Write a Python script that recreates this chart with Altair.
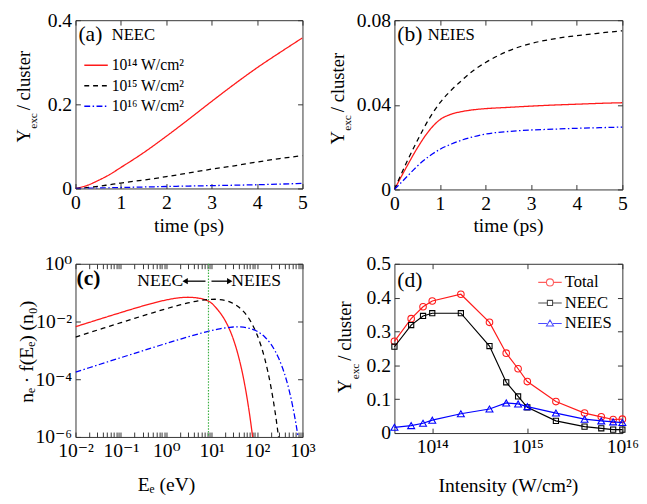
import altair as alt
import pandas as pd

FONT = "'Liberation Serif', 'Times New Roman', Times, 'DejaVu Serif', serif"
RED, BLACK, BLUE, GREEN = "#ff1a1a", "#000000", "#0000ff", "#3cb043"

# ---------------- panel (a): NEEC yield vs time ----------------
t_a = [0, 0.25, 0.5, 0.75, 1, 1.5, 2, 2.5, 3, 3.5, 4, 4.5, 5]
a_1e14 = [0, 0.007, 0.019, 0.033, 0.050, 0.085, 0.124, 0.165, 0.207, 0.248, 0.287, 0.323, 0.358]
a_1e15 = [0, 0.002, 0.005, 0.009, 0.013, 0.020, 0.028, 0.037, 0.046, 0.054, 0.063, 0.071, 0.078]
a_1e16 = [0, 0.0005, 0.001, 0.0017, 0.0023, 0.0035, 0.0047, 0.0058, 0.0068, 0.0078, 0.0089, 0.0104, 0.012]

# ---------------- panel (b): NEIES yield vs time ----------------
t_b = [0, 0.25, 0.5, 0.75, 1, 1.25, 1.5, 1.75, 2, 2.5, 3, 3.5, 4, 4.5, 5]
b_1e14 = [0, 0.010, 0.0195, 0.0275, 0.0330, 0.0356, 0.0369, 0.0377, 0.0382, 0.0388, 0.0394, 0.0399,
          0.0403, 0.0407, 0.041]
b_1e15 = [0, 0.012, 0.023, 0.033, 0.041, 0.047, 0.052, 0.0565, 0.060, 0.0655, 0.069, 0.0712, 0.0727,
          0.0739, 0.0750]
b_1e16 = [0, 0.0055, 0.011, 0.0155, 0.019, 0.0215, 0.0235, 0.0250, 0.0262, 0.0274, 0.0281, 0.0285,
          0.0289, 0.0292, 0.0295]

series_labels = ["10¹⁴ W/cm²", "10¹⁵ W/cm²", "10¹⁶ W/cm²"]

# ---------------- panel (c): electron energy distributions ----------------
E_red = [0.01, 0.02, 0.05, 0.1, 0.2, 0.5, 1, 2, 3, 5, 8, 10, 12, 15, 20, 25, 30, 40, 50, 60, 70, 80, 90]
f_red = [0.0066, 0.0093, 0.01464, 0.0205, 0.02855, 0.04294, 0.0559, 0.0669, 0.0693, 0.065, 0.053, 0.043,
         0.032, 0.021, 0.0105, 0.00512, 0.00244, 5.3e-4, 1.12e-4, 2.3e-5, 4.7e-6, 9.6e-7, 1.9e-7]
E_black = [0.01, 0.02, 0.05, 0.1, 0.2, 0.5, 1, 2, 3, 5, 8, 10, 12, 15, 20, 25, 30, 40, 50, 60, 70, 80, 90,
           100, 150, 200, 250, 300, 350]
f_black = [0.0029, 0.0041, 0.00647, 0.00913, 0.01286, 0.02006, 0.02775, 0.03754, 0.044, 0.052, 0.0576,
           0.0589, 0.0591, 0.0578, 0.0535, 0.04795, 0.0421, 0.03124, 0.0224, 0.0158, 0.011, 0.00752,
           0.00513, 0.00347, 4.66e-4, 5.9e-5, 7.2e-6, 8.6e-7, 1.0e-7]
E_blue = [0.01, 0.02, 0.05, 0.1, 0.2, 0.5, 1, 2, 3, 5, 8, 10, 12, 15, 20, 25, 30, 40, 50, 60, 70, 80, 90,
          100, 150, 200, 250, 300, 350, 400, 500, 600, 700, 800, 900]
f_blue = [1.77e-4, 2.5e-4, 3.96e-4, 5.6e-4, 7.9e-4, 1.243e-3, 1.746e-3, 2.436e-3, 2.944e-3, 3.70e-3,
          4.49e-3, 4.89e-3, 5.21e-3, 5.60e-3, 6.04e-3, 6.31e-3, 6.46e-3, 6.52e-3, 6.37e-3, 6.09e-3,
          5.75e-3, 5.37e-3, 4.98e-3, 4.58e-3, 2.86e-3, 1.68e-3, 9.5e-4, 5.3e-4, 2.9e-4, 1.6e-4,
          4.6e-5, 1.3e-5, 3.65e-6, 1.0e-6, 2.8e-7]
E_boundary = [8.5]
arrow_x1 = [7.3, 9.9]
arrow_x2 = [2.6, 25.0]
arrow_y = [0.25, 0.25]
arrow_head = ["triangle-left", "triangle-right"]
note_text = ["NEEC", "NEIES"]
note_x = [2.35, 27.0]
note_align = ["right", "left"]

# ---------------- panel (d): yield vs intensity ----------------
intensity = [4e13, 6e13, 8e13, 1e14, 2e14, 4e14, 6e14, 8e14, 1e15, 2e15, 4e15, 6e15, 8e15, 1e16]
y_total = [0.271, 0.338, 0.373, 0.390, 0.410, 0.327, 0.236, 0.190, 0.152, 0.093, 0.059, 0.048, 0.040, 0.041]
y_neec = [0.255, 0.319, 0.346, 0.354, 0.354, 0.257, 0.150, 0.108, 0.076, 0.036, 0.019, 0.014, 0.010, 0.010]
y_neies = [0.017, 0.022, 0.029, 0.038, 0.057, 0.071, 0.089, 0.086, 0.078, 0.059, 0.041, 0.036, 0.033, 0.031]
d_series = ["Total", "NEEC", "NEIES"]

DUMMY = pd.DataFrame({"k": [0]})
TICK = 5


def long_df(xs, ys_list, names, xname, yname):
    rows = []
    for xv, ys, name in zip(xs, ys_list, names):
        for a, b in zip(xv, ys):
            rows.append({xname: a, yname: b, "series": name})
    return pd.DataFrame(rows)


def ax(orient, values, fmt=None, expr=None, labels=True, tick=TICK, **extra):
    kw = dict(orient=orient, offset=-tick, tickSize=tick, domain=False, grid=False,
              labelOverlap=False, labelFlush=False, values=values, labels=labels,
              tickColor="#333", tickWidth=1, title=None,
              labelFont=FONT, labelFontSize=20, labelColor="black", labelPadding=4)
    if fmt:
        kw["format"] = fmt
    if expr:
        kw["labelExpr"] = expr
    kw.update(extra)
    return alt.Axis(**kw)


def txt(s, x, y, size, weight="normal", align="left", baseline="alphabetic", angle=None):
    kw = dict(text=s, fontSize=size, font=FONT, align=align, baseline=baseline,
              color="black", fontWeight=weight)
    if angle is not None:
        kw["angle"] = angle
    return alt.Chart(DUMMY).mark_text(**kw).encode(x=alt.value(x), y=alt.value(y))


def ytitle(xb, yb):
    return [
        txt("Y", xb, yb, 19, angle=270),
        txt("exc", xb + 8, yb - 14, 11.5, angle=270),
        txt("/ cluster", xb, yb - 33, 19, angle=270),
    ]


def mirror(df, xf, yf, xs, ys, xv, yv):
    return alt.Chart(df).transform_filter("false").mark_point().encode(
        x=alt.X(xf, type="quantitative", scale=xs, axis=ax("top", xv, labels=False)),
        y=alt.Y(yf, type="quantitative", scale=ys, axis=ax("right", yv, labels=False)),
    )


DASHES = [[1, 0], [5, 4], [6, 2.5, 1.5, 2.5]]

# ====== (a) ======
df_a = long_df([t_a] * 3, [a_1e14, a_1e15, a_1e16], series_labels, "t", "y")
xs_a = alt.Scale(domain=[0, 5], nice=False)
ys_a = alt.Scale(domain=[0, 0.4], nice=False)
leg_a = dict(orient="none", legendX=8, legendY=33, title=None, labelFont=FONT, labelFontSize=16,
             labelColor="black", symbolType="stroke", symbolSize=576, symbolStrokeWidth=1.4,
             rowPadding=-5, labelOffset=3, padding=0)
lines_a = alt.Chart(df_a).mark_line(strokeWidth=1.3, clip=True, interpolate="monotone").encode(
    x=alt.X("t:Q", scale=xs_a, axis=ax("bottom", [0, 1, 2, 3, 4, 5])),
    y=alt.Y("y:Q", scale=ys_a, axis=ax("left", [0, 0.2, 0.4], fmt="~g")),
    color=alt.Color("series:N", scale=alt.Scale(domain=series_labels, range=[RED, BLACK, BLUE]),
                    legend=alt.Legend(**leg_a)),
    strokeDash=alt.StrokeDash("series:N", scale=alt.Scale(domain=series_labels, range=DASHES),
                              legend=alt.Legend(**leg_a)),
)
panel_a = alt.layer(
    lines_a,
    mirror(df_a, "t", "y", xs_a, ys_a, [0, 1, 2, 3, 4, 5], [0, 0.2, 0.4]),
    txt("(a)", 3, 21, 22),
    txt("NEEC", 37, 20, 17),
    txt("time (ps)", 116, 216, 20, align="center"),
    *ytitle(-47, 125),
).resolve_axis(x="independent", y="independent").properties(width=232, height=172)

# ====== (b) ======
df_b = long_df([t_b] * 3, [b_1e14, b_1e15, b_1e16], series_labels, "t", "y")
xs_b = alt.Scale(domain=[0, 5], nice=False)
ys_b = alt.Scale(domain=[0, 0.08], nice=False)
lines_b = alt.Chart(df_b).mark_line(strokeWidth=1.3, clip=True, interpolate="monotone").encode(
    x=alt.X("t:Q", scale=xs_b, axis=ax("bottom", [0, 1, 2, 3, 4, 5])),
    y=alt.Y("y:Q", scale=ys_b, axis=ax("left", [0, 0.04, 0.08], fmt="~g")),
    color=alt.Color("series:N", scale=alt.Scale(domain=series_labels, range=[RED, BLACK, BLUE]), legend=None),
    strokeDash=alt.StrokeDash("series:N", scale=alt.Scale(domain=series_labels, range=DASHES), legend=None),
)
panel_b = alt.layer(
    lines_b,
    mirror(df_b, "t", "y", xs_b, ys_b, [0, 1, 2, 3, 4, 5], [0, 0.04, 0.08]),
    txt("(b)", 3, 21, 22),
    txt("NEIES", 34, 20, 17),
    txt("time (ps)", 116.5, 216, 20, align="center"),
    *ytitle(-52, 127),
).resolve_axis(x="independent", y="independent").properties(width=233, height=173)

# ====== (c) ======
df_c = long_df([E_red, E_black, E_blue], [f_red, f_black, f_blue], series_labels, "E", "f")
xs_c = alt.Scale(type="log", domain=[0.01, 1000], nice=False)
ys_c = alt.Scale(type="log", domain=[1e-6, 1], nice=False)
xvals_c = [k * 10.0 ** e for e in range(-2, 3) for k in range(1, 10)] + [1000.0]
xexpr_c = ("datum.value == 0.01 ? '10⁻²' : datum.value == 0.1 ? '10⁻¹' : datum.value == 1 ? '10⁰' : "
           "datum.value == 10 ? '10¹' : datum.value == 100 ? '10²' : datum.value == 1000 ? '10³' : ''")
yexpr_c = ("datum.value == 1 ? '10⁰' : datum.value == 0.01 ? '10⁻²' : datum.value == 0.0001 ? '10⁻⁴' : "
           "datum.value == 0.000001 ? '10⁻⁶' : ''")
yvals_c = [1e-6, 1e-4, 1e-2, 1]
lines_c = alt.Chart(df_c).mark_line(strokeWidth=1.3, clip=True, interpolate="monotone").encode(
    x=alt.X("E:Q", scale=xs_c, axis=ax("bottom", xvals_c, expr=xexpr_c)),
    y=alt.Y("f:Q", scale=ys_c, axis=ax("left", yvals_c, expr=yexpr_c)),
    color=alt.Color("series:N", scale=alt.Scale(domain=series_labels, range=[RED, BLACK, BLUE]), legend=None),
    strokeDash=alt.StrokeDash("series:N", scale=alt.Scale(domain=series_labels, range=DASHES), legend=None),
)
rule_c = alt.Chart(pd.DataFrame({"E": E_boundary})).mark_rule(
    color=GREEN, strokeWidth=1.2, strokeDash=[1.5, 1.5]).encode(
    x=alt.X("E:Q", scale=xs_c, axis=None))
arrows_df = pd.DataFrame({"x1": arrow_x1, "x2": arrow_x2, "y": arrow_y, "head": arrow_head})
shaft_c = alt.Chart(arrows_df).mark_rule(color="black", strokeWidth=1.3).encode(
    x=alt.X("x1:Q", scale=xs_c, axis=None), x2="x2:Q",
    y=alt.Y("y:Q", scale=ys_c, axis=None))
head_c = alt.Chart(arrows_df).mark_point(filled=True, color="black", size=40, opacity=1).encode(
    x=alt.X("x2:Q", scale=xs_c, axis=None),
    y=alt.Y("y:Q", scale=ys_c, axis=None),
    shape=alt.Shape("head:N", scale=None))
notes_df = pd.DataFrame({"x": note_x, "y": arrow_y, "t": note_text, "a": note_align})
note_l = alt.Chart(notes_df).transform_filter("datum.a == 'right'").mark_text(
    font=FONT, fontSize=18, align="right", baseline="middle", color="black").encode(
    x=alt.X("x:Q", scale=xs_c, axis=None), y=alt.Y("y:Q", scale=ys_c, axis=None), text="t:N")
note_r = alt.Chart(notes_df).transform_filter("datum.a == 'left'").mark_text(
    font=FONT, fontSize=18, align="left", baseline="middle", color="black").encode(
    x=alt.X("x:Q", scale=xs_c, axis=None), y=alt.Y("y:Q", scale=ys_c, axis=None), text="t:N")
panel_c = alt.layer(
    lines_c, rule_c, shaft_c, head_c, note_l, note_r,
    mirror(df_c, "E", "f", xs_c, ys_c, xvals_c, yvals_c),
    txt("(c)", 1, 22, 22, weight="bold"),
    txt("Eₑ (eV)", 93, 232, 20, align="center"),
    txt("nₑ · f(Eₑ) (n₀)", -43, 90, 20, align="center", angle=270),
).resolve_axis(x="independent", y="independent").properties(width=232, height=177)

# ====== (d) ======
df_d = long_df([intensity] * 3, [y_total, y_neec, y_neies], d_series, "I", "y")
xs_d = alt.Scale(type="log", domain=[4e13, 1e16], nice=False)
ys_d = alt.Scale(domain=[0, 0.5], nice=False)
xvals_d = [1e14, 1e15, 1e16]
yvals_d = [0, 0.1, 0.2, 0.3, 0.4, 0.5]
xexpr_d = "datum.value == 1e14 ? '10¹⁴' : datum.value == 1e15 ? '10¹⁵' : '10¹⁶'"
d_colors = [RED, BLACK, BLUE]
d_shapes = ["circle", "square", "triangle-up"]
d_sizes = [45, 28, 50]
d_layers = []
for i, (name, col, shp, sz) in enumerate(zip(d_series, d_colors, d_shapes, d_sizes)):
    if i == 0:
        xenc = alt.X("I:Q", scale=xs_d, axis=ax("bottom", xvals_d, expr=xexpr_d))
        yenc = alt.Y("y:Q", scale=ys_d, axis=ax("left", yvals_d, fmt="~g"))
    else:
        xenc = alt.X("I:Q", scale=xs_d, axis=None)
        yenc = alt.Y("y:Q", scale=ys_d, axis=None)
    base = alt.Chart(df_d).transform_filter(alt.datum.series == name)
    d_layers.append(base.mark_line(color=col, strokeWidth=1.2).encode(x=xenc, y=yenc))
    d_layers.append(base.mark_point(color=col, shape=shp, size=sz, filled=False, strokeWidth=1.1,
                                    opacity=1).encode(
        x=alt.X("I:Q", scale=xs_d, axis=None), y=alt.Y("y:Q", scale=ys_d, axis=None)))
leg_paths = [
    "M-1,0L-0.3,0M0.3,0L1,0M0.3,0A0.3,0.3,0,1,1,-0.3,0A0.3,0.3,0,1,1,0.3,0Z",
    "M-1,0L-0.22,0M0.22,0L1,0M-0.22,-0.22L0.22,-0.22L0.22,0.22L-0.22,0.22Z",
    "M-1,0L-0.26,0M0.26,0L1,0M0,-0.3L0.3,0.22L-0.3,0.22Z",
]
leg_d = dict(orient="none", legendX=146, legendY=6, title=None, labelFont=FONT, labelColor="black",
             labelFontSize=17, symbolSize=576, symbolStrokeWidth=1.1, rowPadding=-3, labelOffset=2,
             padding=0)
legend_d = alt.Chart(df_d).transform_filter("false").mark_point(filled=False).encode(
    x=alt.X("I:Q", scale=xs_d, axis=None), y=alt.Y("y:Q", scale=ys_d, axis=None),
    color=alt.Color("series:N", scale=alt.Scale(domain=d_series, range=d_colors),
                    legend=alt.Legend(**leg_d)),
    shape=alt.Shape("series:N", scale=alt.Scale(domain=d_series, range=leg_paths),
                    legend=alt.Legend(**leg_d)),
)
panel_d = alt.layer(
    *d_layers, legend_d,
    mirror(df_d, "I", "y", xs_d, ys_d, xvals_d, yvals_d),
    txt("(d)", 3, 24, 22),
    txt("Intensity (W/cm²)", 116.5, 233, 20, align="center"),
    *ytitle(-44, 132),
).resolve_axis(x="independent", y="independent").properties(width=233, height=173)

RES = dict(color="independent", strokeDash="independent", shape="independent")
row1 = alt.hconcat(panel_a, panel_b, spacing=20).resolve_scale(**RES).resolve_legend(**RES)
row2 = alt.hconcat(panel_c, panel_d, spacing=20).resolve_scale(**RES).resolve_legend(**RES)
chart = alt.vconcat(row1, row2, spacing=17).resolve_scale(**RES).resolve_legend(**RES).properties(
    padding={"left": 6, "top": -4, "right": 0, "bottom": 0}
).configure_view(stroke="#333", strokeWidth=1)

chart.save("out.html", embed_options={"renderer": "svg", "actions": False})
